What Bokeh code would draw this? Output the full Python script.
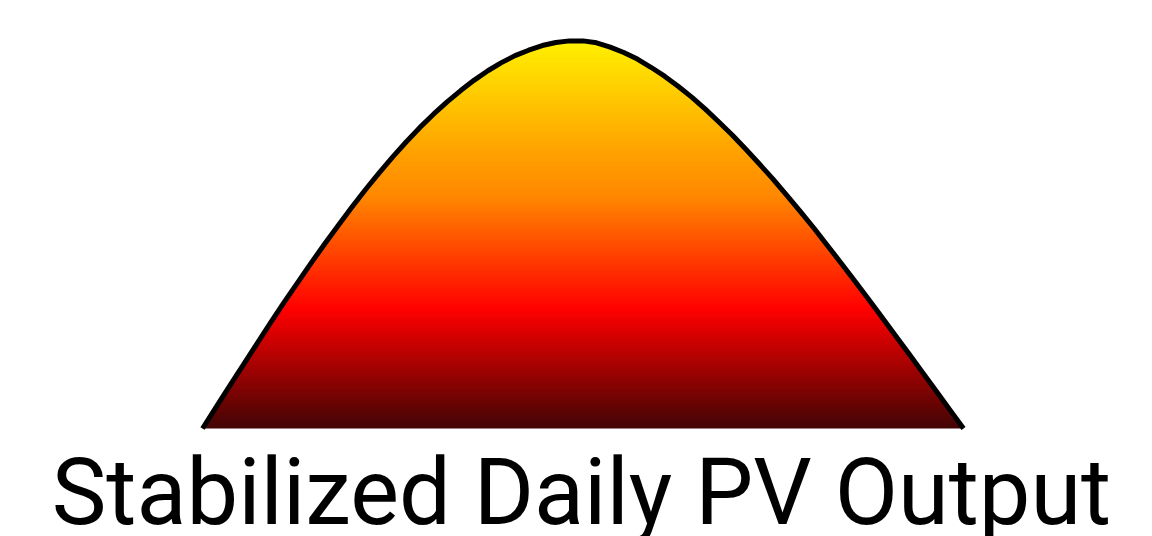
import numpy as np
from bokeh.plotting import figure
from bokeh.models import Range1d, Label
from bokeh.embed import file_html
from bokeh.resources import INLINE

# --- data: stabilized PV output, % of daily peak, every 15 minutes 06:00-20:00 ---
hours = [6.0 + 0.25 * i for i in range(57)]
output_pct = [0.0, 5.5, 11.0, 16.4, 21.8, 27.2, 32.5, 37.6, 42.7, 47.6,
              52.4, 57.1, 61.6, 65.9, 70.0, 73.9, 77.6, 81.0, 84.2, 87.1,
              89.8, 92.2, 94.3, 96.1, 97.5, 98.7, 99.5, 99.9,
              99.9, 99.4, 98.3, 96.9, 95.2, 93.1, 90.8, 88.2, 85.4, 82.3,
              79.0, 75.6, 71.9, 68.1, 64.2, 60.1, 55.9, 51.6, 47.1, 42.6,
              38.0, 33.4, 28.7, 23.9, 19.2, 14.4, 9.6, 4.8, 0.0]
title_text = "Stabilized Daily PV Output"

# gradient colour stops (fraction of peak, colour)
stop_pos = [0.0, 0.307, 0.60, 0.706, 1.0]
stop_rgb = [(0x42, 0x04, 0x04), (0xff, 0x00, 0x00), (0xff, 0x88, 0x00),
            (0xff, 0xa0, 0x00), (0xff, 0xf0, 0x00)]

W, H = 1152, 536
x0, x1 = 2.2838, 23.477
y0, y1 = -27.835, 110.309

p = figure(width=W, height=H, output_backend="svg", toolbar_location=None,
           x_range=Range1d(x0, x1), y_range=Range1d(y0, y1), min_border=0,
           background_fill_color="white", border_fill_color="white")
p.outline_line_color = None
p.xaxis.visible = False
p.yaxis.visible = False
p.xgrid.visible = False
p.ygrid.visible = False

xs = np.array(hours, dtype=float)
ys = np.array(output_pct, dtype=float)
peak = 100.0


def colour_at(f):
    r = np.interp(f, stop_pos, [c[0] for c in stop_rgb])
    g = np.interp(f, stop_pos, [c[1] for c in stop_rgb])
    b = np.interp(f, stop_pos, [c[2] for c in stop_rgb])
    return "#%02x%02x%02x" % (int(round(r)), int(round(g)), int(round(b)))


def band(lo, hi):
    px = list(xs)
    for i in range(len(xs) - 1):
        ya, yb = ys[i], ys[i + 1]
        for lev in (lo, hi):
            if (ya - lev) * (yb - lev) < 0:
                t = (lev - ya) / (yb - ya)
                px.append(xs[i] + t * (xs[i + 1] - xs[i]))
    px = np.array(sorted(px))
    yy = np.interp(px, xs, ys)
    return px, np.clip(yy, lo, hi)


step = 0.5
levels = np.arange(0, ys.max() + step, step)
for lo in levels[:-1]:
    hi = lo + step
    bx, by = band(lo, hi + 0.4)
    col = colour_at((lo + step / 2) / peak)
    p.varea(x=bx, y1=lo, y2=by, fill_color=col, fill_alpha=1.0)

p.line(xs, ys, line_color="black", line_width=5, line_join="round")

p.add_layout(Label(x=12.972, y=-16.6, text=title_text, text_align="center",
                   text_baseline="alphabetic", text_font="Roboto",
                   text_font_size="92px", text_color="black"))

open("out.html", "w").write(file_html(p, INLINE))
